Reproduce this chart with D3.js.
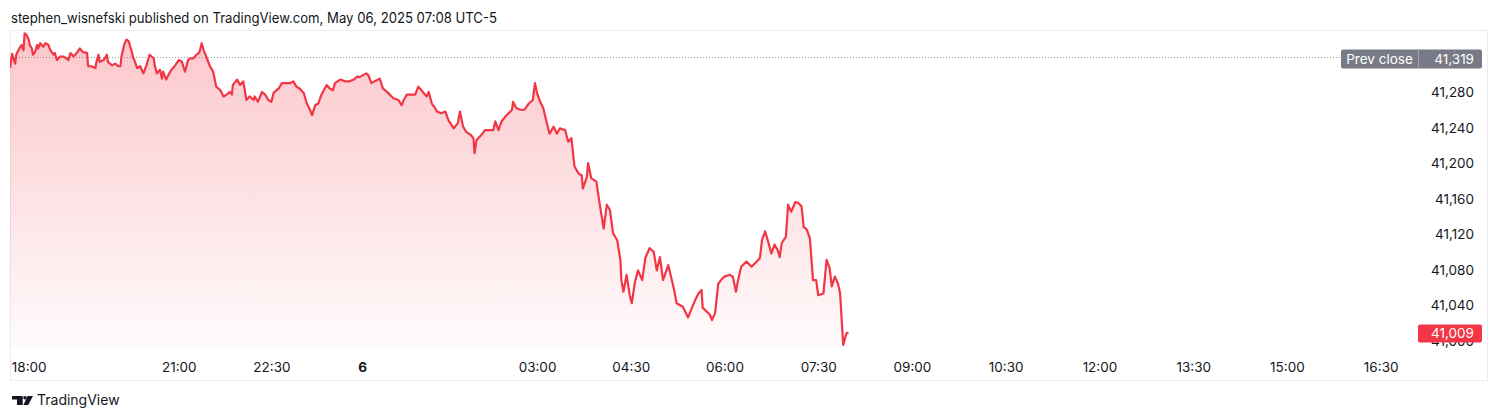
<!DOCTYPE html>
<html>
<head>
<meta charset="utf-8">
<script src="https://cdn.jsdelivr.net/npm/d3@7"></script>
<style>
  html, body { margin: 0; padding: 0; background: #ffffff; }
  svg { display: block; }
  text { font-family: Inter, "Noto Sans", sans-serif; }
</style>
</head>
<body>
<svg id="chart" width="1500" height="420"></svg>
<script>
// ---------------- DATA ----------------
const headerText = "stephen_wisnefski published on TradingView.com, May 06, 2025 07:08 UTC-5";
const brandText = "TradingView";

// bar index (minute bars since session start) of each sampled point
const bars = [0,2,5,6,8,11,13,14,16,18,19,21,22,24,26,27,29,32,34,37,38,40,42,43,45,48,51,54,56,58,61,64,67,70,74,75,78,82,83,85,86,90,93,94,98,101,104,106,107,110,112,114,115,117,118,120,122,125,128,131,134,138,139,141,144,146,147,150,152,155,158,162,165,168,171,173,176,179,182,184,186,189,192,195,198,202,205,208,211,213,214,218,221,224,227,230,234,235,238,242,245,248,251,253,258,261,266,269,272,275,278,282,285,288,290,293,296,299,304,307,310,312,317,322,326,330,333,336,339,342,344,347,350,355,358,363,368,373,376,378,381,386,389,392,395,400,402,405,408,410,414,418,421,426,430,432,435,438,442,445,446,448,453,456,459,464,466,469,472,477,482,483,486,490,494,498,502,504,506,509,512,515,518,522,525,528,533,536,539,542,546,549,550,554,555,558,563,566,570,573,576,579,583,586,587,589,592,595,597,600,603,607,610,614,618,621,624,627,632,636,638,640,646,651,658,661,664,665,672,674,677,680,684,686,691,694,697,699,702,707,712,717,720,722,725,728,731,734,737,739,741,745,747,750,754,757,760,762,765,768,771,774,776,781,784,787,789,792,795,797,800,803,805];

// price of each sampled point
const prices = [41307,41323,41312,41322,41327,41333,41327,41346,41344,41339,41333,41329,41322,41325,41333,41329,41335,41331,41335,41333,41329,41325,41322,41324,41316,41320,41320,41318,41316,41324,41320,41324,41329,41325,41324,41309,41309,41307,41314,41322,41314,41316,41322,41314,41310,41312,41309,41309,41320,41335,41339,41337,41333,41325,41320,41314,41307,41309,41301,41310,41322,41318,41310,41301,41305,41295,41303,41294,41299,41305,41309,41316,41314,41303,41316,41318,41318,41322,41325,41335,41327,41318,41309,41303,41286,41282,41275,41277,41280,41277,41288,41294,41288,41292,41271,41275,41271,41275,41269,41280,41277,41271,41269,41279,41284,41290,41290,41290,41292,41286,41284,41279,41267,41260,41254,41265,41267,41277,41288,41284,41282,41290,41294,41292,41292,41294,41297,41297,41299,41301,41299,41290,41292,41295,41284,41279,41273,41271,41265,41271,41277,41277,41277,41286,41282,41275,41280,41267,41262,41258,41256,41258,41248,41239,41245,41258,41241,41235,41232,41228,41211,41226,41232,41237,41237,41237,41247,41237,41247,41254,41260,41269,41262,41260,41260,41267,41271,41290,41279,41269,41262,41247,41233,41241,41233,41239,41237,41224,41228,41196,41188,41186,41171,41185,41200,41183,41179,41155,41126,41153,41147,41121,41113,41091,41068,41055,41074,41051,41042,41066,41079,41068,41093,41104,41100,41079,41094,41068,41085,41065,41055,41042,41038,41026,41046,41053,41057,41037,41029,41023,41031,41064,41070,41072,41074,41072,41055,41068,41083,41089,41083,41089,41093,41113,41123,41111,41098,41108,41102,41094,41110,41117,41153,41145,41156,41155,41151,41128,41125,41115,41068,41068,41051,41053,41091,41081,41061,41072,41064,41053,40995,41008,41009];

const prevClose = 41319;
const lastPrice = 41009;

const priceTicks = [41000, 41040, 41080, 41120, 41160, 41200, 41240, 41280];

const timeTickLabels = ["18:00","21:00","22:30","6","03:00","04:30","06:00","07:30","09:00","10:30","12:00","13:30","15:00","16:30"];
const timeTickBars   = [18, 162, 251, 338, 506, 596, 686, 776, 866, 956, 1046, 1136, 1226, 1316];
const timeTickBold   = [false,false,false,true,false,false,false,false,false,false,false,false,false,false];

// ---------------- LAYOUT ----------------
const pane = { left: 10, top: 30, right: 1414, bottom: 347 };
const frame = { left: 10.5, top: 30.5, right: 1487.5, bottom: 380.5 };
const RED = "#f23645";
const TEXT = "#131722";

const svg = d3.select("#chart");

const x = d3.scaleLinear().domain([0, 1348]).range([pane.left, pane.right]);
const y = d3.scaleLinear().domain([41000, 41280]).range([340.5, 92]);

const data = bars.map((b, i) => ({ bar: b, p: prices[i] }));

// header
svg.append("text")
  .attr("x", 11).attr("y", 22.5)
  .attr("font-size", 14).attr("fill", TEXT)
  .attr("textLength", 486).attr("lengthAdjust", "spacingAndGlyphs")
  .text(headerText);

// frame
svg.append("rect")
  .attr("x", frame.left).attr("y", frame.top)
  .attr("width", frame.right - frame.left).attr("height", frame.bottom - frame.top)
  .attr("fill", "none").attr("stroke", "#eceef2").attr("stroke-width", 1);

// clip for pane
const defs = svg.append("defs");
defs.append("clipPath").attr("id", "paneClip")
  .append("rect")
  .attr("x", pane.left).attr("y", pane.top)
  .attr("width", pane.right - pane.left).attr("height", pane.bottom - pane.top);

const grad = defs.append("linearGradient").attr("id", "areaGrad")
  .attr("gradientUnits", "userSpaceOnUse")
  .attr("x1", 0).attr("x2", 0)
  .attr("y1", y(d3.max(prices))).attr("y2", pane.bottom);
grad.append("stop").attr("offset", 0).attr("stop-color", RED).attr("stop-opacity", 0.28);
grad.append("stop").attr("offset", 1).attr("stop-color", RED).attr("stop-opacity", 0.02);

const g = svg.append("g").attr("clip-path", "url(#paneClip)");

// prev close dotted line
g.append("line")
  .attr("x1", pane.left).attr("x2", 1341)
  .attr("y1", Math.round(y(prevClose)) + 0.5).attr("y2", Math.round(y(prevClose)) + 0.5)
  .attr("stroke", "#9598a1").attr("stroke-width", 1)
  .attr("stroke-dasharray", "1,2");

const area = d3.area()
  .x(d => x(d.bar))
  .y0(pane.bottom)
  .y1(d => y(d.p));
const line = d3.line()
  .x(d => x(d.bar))
  .y(d => y(d.p));

g.append("path").datum(data)
  .attr("d", area)
  .attr("fill", "url(#areaGrad)");

g.append("path").datum(data)
  .attr("d", line)
  .attr("fill", "none")
  .attr("stroke", RED)
  .attr("stroke-width", 2.2)
  .attr("stroke-linejoin", "round");

// price axis (right)
const fmt = d3.format(",");
const yAxis = d3.axisRight(y).tickValues(priceTicks).tickFormat(fmt).tickSize(0).tickPadding(0);
const yAxisG = svg.append("g").attr("transform", `translate(${1474},0)`).call(yAxis);
yAxisG.select(".domain").remove();
yAxisG.selectAll("text")
  .attr("text-anchor", "end")
  .attr("x", 0)
  .attr("dy", "0.36em")
  .attr("font-size", 13.5)
  .attr("font-family", "Inter, 'Noto Sans', sans-serif")
  .attr("fill", TEXT);

// time axis (bottom)
const xAxis = d3.axisBottom(x).tickValues(timeTickBars)
  .tickFormat((d, i) => timeTickLabels[i]).tickSize(0).tickPadding(0);
const xAxisG = svg.append("g").attr("transform", `translate(0,${361})`).call(xAxis);
xAxisG.select(".domain").remove();
xAxisG.selectAll("text")
  .attr("y", 0)
  .attr("dy", "0.82em")
  .attr("font-size", 13.5)
  .attr("font-family", "Inter, 'Noto Sans', sans-serif")
  .attr("font-weight", (d, i) => timeTickBold[i] ? 700 : 400)
  .attr("fill", TEXT);

// prev close label
const pcY = y(prevClose);
const pc = svg.append("g");
pc.append("rect").attr("x", 1341).attr("y", pcY - 8).attr("width", 141).attr("height", 19)
  .attr("rx", 2).attr("fill", "#787b86");
pc.append("line").attr("x1", 1418.5).attr("x2", 1418.5).attr("y1", pcY - 8).attr("y2", pcY + 11)
  .attr("stroke", "#a3a6af").attr("stroke-width", 1);
pc.append("text").attr("x", 1379.5).attr("y", pcY + 1.5).attr("dy", "0.36em")
  .attr("text-anchor", "middle").attr("font-size", 13.5).attr("fill", "#ffffff").text("Prev close");
pc.append("text").attr("x", 1474).attr("y", pcY + 1.5).attr("dy", "0.36em")
  .attr("text-anchor", "end").attr("font-size", 13.5).attr("fill", "#ffffff").text(fmt(prevClose));

// last price label
const lpY = y(lastPrice);
const lp = svg.append("g");
lp.append("rect").attr("x", 1418).attr("y", lpY - 8).attr("width", 64).attr("height", 18)
  .attr("rx", 2).attr("fill", RED);
lp.append("text").attr("x", 1474).attr("y", lpY + 1).attr("dy", "0.36em")
  .attr("text-anchor", "end").attr("font-size", 13.5).attr("fill", "#ffffff").text(fmt(lastPrice));

// footer logo + brand
const logo = svg.append("g").attr("fill", "#131722");
logo.append("path").attr("d", "M12,396 H22.7 V405 H17 V399.6 H12 Z");
logo.append("circle").attr("cx", 25).attr("cy", 397.8).attr("r", 1.8);
logo.append("path").attr("d", "M27.6,396 H33 L28.2,405 H23.4 Z");
svg.append("text").attr("x", 37).attr("y", 405)
  .attr("font-size", 14).attr("fill", "#131722").text(brandText);
</script>
</body>
</html>
